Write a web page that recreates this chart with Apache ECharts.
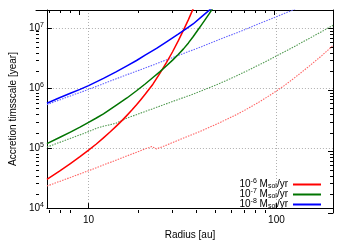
<!DOCTYPE html>
<html>
<head>
<meta charset="utf-8">
<script src="https://cdn.jsdelivr.net/npm/echarts@6/dist/echarts.min.js"></script>
<style>
html,body{margin:0;padding:0;background:#fff;}
#c{width:350px;height:245px;}
</style>
</head>
<body>
<div id="c"></div>
<script>
// ---- data ----
var xMajorTicks = [10, 100];
var xMinorTicks = [7, 8, 9, 20, 30, 40, 50, 60, 70, 80, 90, 200];
var yMajorTicks = [1e4, 1e5, 1e6, 1e7];
var yMinorTicks = [2e4,3e4,4e4,5e4,6e4,7e4,8e4,9e4,2e5,3e5,4e5,5e5,6e5,7e5,8e5,9e5,2e6,3e6,4e6,5e6,6e6,7e6,8e6,9e6,2e7];

// solid lines: [radius au, timescale yr]
var red6 = [[6,3.02e4],[7,4.14e4],[8,5.52e4],[9,7.19e4],[10,9.23e4],[11,1.17e5],[12,1.48e5],[13,1.85e5],[14,2.3e5],[15,2.84e5],[16,3.51e5],[17,4.3e5],[18,5.27e5],[19,6.47e5],[20,7.87e5],[22,1.16e6],[24,1.78e6],[26,2.69e6],[28,4.03e6],[30,6.1e6],[32,9.23e6],[34,1.38e7],[36,2.09e7],[38,3.24e7]];
var green7 = [[6,1.19e5],[7,1.5e5],[8,1.85e5],[9,2.24e5],[10,2.69e5],[11,3.17e5],[12,3.72e5],[14,5.13e5],[16,6.84e5],[18,9.02e5],[20,1.17e6],[22,1.5e6],[24,1.88e6],[26,2.36e6],[28,2.92e6],[30,3.63e6],[32,4.5e6],[34,5.66e6],[36,7.18e6],[38,9.1e6],[40,1.14e7],[42,1.42e7],[44,1.76e7],[46,2.18e7],[48,2.65e7]];
var blue8 = [[6,5.6e5],[7,6.9e5],[8,8.2e5],[9,9.5e5],[10,1.1e6],[12,1.45e6],[14,1.86e6],[16,2.34e6],[18,2.88e6],[20,3.55e6],[23,4.6e6],[26,5.9e6],[30,7.9e6],[33,9.7e6],[36,1.17e7],[40,1.55e7],[43,1.88e7],[46,2.26e7],[48,2.5e7]];
// dotted lines
var red6d = [[6,2.33e4],[8,3.24e4],[10,4.2e4],[15,6.84e4],[20,9.7e4],[21,1.02e5],[21.7,1.06e5],[23,9.7e4],[25,1.07e5],[30,1.35e5],[40,1.95e5],[50,2.66e5],[60,3.5e5],[70,4.52e5],[80,5.74e5],[90,7.21e5],[100,8.95e5],[110,1.1e6],[120,1.35e6],[135,1.8e6],[150,2.34e6],[175,3.51e6],[200,5.13e6]];
var green7d = [[6,1.04e5],[8,1.45e5],[10,1.88e5],[11,2.14e5],[12,2.32e5],[13,2.45e5],[14,2.6e5],[16,3.16e5],[20,4.07e5],[25,5.25e5],[30,6.46e5],[35,7.67e5],[40,9.0e5],[50,1.2e6],[60,1.55e6],[70,1.95e6],[80,2.4e6],[90,2.88e6],[100,3.43e6],[120,4.62e6],[150,6.76e6],[175,8.81e6],[200,1.11e7]];
var blue8d = [[6,5.3e5],[8,7.4e5],[10,9.5e5],[15,1.55e6],[20,2.16e6],[30,3.5e6],[40,4.9e6],[50,6.5e6],[60,8.1e6],[70,9.8e6],[80,1.17e7],[100,1.55e7],[120,1.95e7],[130,2.2e7]];

var legendNames = ['m6', 'm7', 'm8'];
var legendExp = {m6: '-6', m7: '-7', m8: '-8'};

var FONT = 'Liberation Sans, Arial, sans-serif';
var GRID = {left: 36, right: 17, top: 10, bottom: 32};
var XMIN = 6, XMAX = 200, YMIN = 1e4, YMAX = 2e7;

function xAx(idx, pos, ticks, len, opts) {
  var a = {
    type: 'log', gridIndex: idx, position: pos, min: XMIN, max: XMAX, logBase: 10,
    axisLine: {show: false},
    axisTick: {show: true, inside: true, length: len, customValues: ticks, lineStyle: {color: '#000', width: 1}},
    axisLabel: {show: false},
    splitLine: {show: false},
    minorTick: {show: false}
  };
  for (var k in (opts || {})) a[k] = opts[k];
  return a;
}
function yAx(idx, pos, ticks, len, opts) {
  var a = {
    type: 'log', gridIndex: idx, position: pos, min: YMIN, max: YMAX, logBase: 10,
    axisLine: {show: false},
    axisTick: {show: true, inside: true, length: len, customValues: ticks, lineStyle: {color: '#000', width: 1}},
    axisLabel: {show: false},
    splitLine: {show: false},
    minorTick: {show: false}
  };
  for (var k in (opts || {})) a[k] = opts[k];
  return a;
}

var grids = [];
for (var i = 0; i < 4; i++) grids.push({left: GRID.left, right: GRID.right, top: GRID.top, bottom: GRID.bottom, containLabel: false});

var xAxes = [
  xAx(0, 'bottom', xMajorTicks, 5, {
    axisLine: {show: true, lineStyle: {color: '#000', width: 1}},
    axisLabel: {show: true, customValues: xMajorTicks, color: '#000', fontSize: 10, fontFamily: FONT, margin: 7},
    splitLine: {show: true, lineStyle: {color: '#b0b0b0', type: [1, 2], width: 1}},
    name: 'Radius [au]', nameLocation: 'middle', nameGap: 19,
    nameTextStyle: {color: '#000', fontSize: 10, fontFamily: FONT}
  }),
  xAx(1, 'bottom', xMinorTicks, 3),
  xAx(2, 'top', xMajorTicks, 5, {axisLine: {show: true, lineStyle: {color: '#000', width: 1}}}),
  xAx(3, 'top', xMinorTicks, 3)
];
var yAxes = [
  yAx(0, 'left', yMajorTicks, 5, {
    axisLine: {show: true, lineStyle: {color: '#000', width: 1}},
    axisLabel: {
      show: true, customValues: yMajorTicks, color: '#000', fontSize: 10, fontFamily: FONT, margin: 3,
      formatter: function (v) { return '{b|10}{sup|' + Math.round(Math.log10(v)) + '}'; },
      rich: {
        b: {fontSize: 10, fontFamily: FONT, color: '#000'},
        sup: {fontSize: 7, fontFamily: FONT, color: '#000', padding: [0, 0, 6, 0]}
      }
    },
    splitLine: {show: true, lineStyle: {color: '#b0b0b0', type: [1, 2], width: 1}},
    name: 'Accretion timsscale [year]', nameLocation: 'middle', nameGap: 23,
    nameTextStyle: {color: '#000', fontSize: 10, fontFamily: FONT}
  }),
  yAx(1, 'left', yMinorTicks, 3),
  yAx(2, 'right', yMajorTicks, 5, {axisLine: {show: true, lineStyle: {color: '#000', width: 1}}}),
  yAx(3, 'right', yMinorTicks, 3)
];

function solid(name, data, color) {
  return {type: 'line', name: name, data: data, xAxisIndex: 0, yAxisIndex: 0, showSymbol: false, symbol: 'none',
    clip: true, color: color, lineStyle: {color: color, width: 1.5, join: 'round'}, z: 3};
}
function dotted(name, data, color) {
  return {type: 'line', name: name, data: data, xAxisIndex: 0, yAxisIndex: 0, showSymbol: false, symbol: 'none',
    clip: true, color: color, lineStyle: {color: color, width: 1.1, type: [1.5, 1.2]}, z: 2};
}

var legendTops = [178, 188, 198];
var legends = legendNames.map(function (n, i) {
  return {
    data: [n], orient: 'vertical', right: 29, top: legendTops[i], align: 'right',
    icon: 'rect', itemWidth: 28, itemHeight: 2, itemGap: 0, padding: 0, selectedMode: false,
    formatter: function (name) { return '{b|10}{sup|' + legendExp[name] + '}{b| M}{sub|sol}{b|/yr}'; },
    textStyle: {
      color: '#000', fontSize: 10, fontFamily: FONT,
      rich: {
        b: {fontSize: 10, fontFamily: FONT, color: '#000'},
        sup: {fontSize: 7, fontFamily: FONT, color: '#000', padding: [0, 0, 6, 0]},
        sub: {fontSize: 7, fontFamily: FONT, color: '#000', padding: [4, 0, 0, 0]}
      }
    }
  };
});

var chart = echarts.init(document.getElementById('c'), null, {renderer: 'canvas'});
chart.setOption({
  animation: false,
  backgroundColor: '#fff',
  grid: grids,
  xAxis: xAxes,
  yAxis: yAxes,
  legend: legends,
  series: [
    dotted('m6d', red6d, '#ff6464'),
    dotted('m7d', green7d, '#529b52'),
    dotted('m8d', blue8d, '#6464ff'),
    solid('m6', red6, '#ff0000'),
    solid('m7', green7, '#007400'),
    solid('m8', blue8, '#0000ff')
  ]
});
</script>
</body>
</html>
